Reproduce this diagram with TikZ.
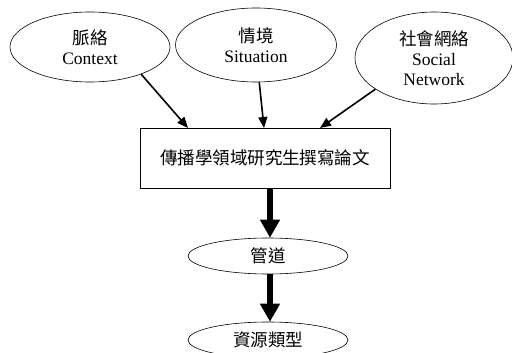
\documentclass[tikz,border=0pt]{standalone}
\usepackage{fontspec}
\setmainfont{Liberation Serif}
\newfontfamily\cjk{Noto Sans CJK TC}
\usetikzlibrary{shapes.geometric,arrows.meta}
\begin{document}
\begin{tikzpicture}[x=1pt,y=-1pt,
  oval/.style={draw,ellipse,inner sep=0pt,line width=0.6pt,align=center,font=\fontsize{17.5}{20}\selectfont},
  thinarrow/.style={line width=1.6pt,-{Triangle[width=9pt,length=11pt]}},
  thickarrow/.style={line width=6.5pt,-{Triangle[width=19pt,length=18pt]}}]
\useasboundingbox (0,0) rectangle (512,353);
\node[oval,minimum width=160pt,minimum height=70pt] (ctx) at (90,47) {{\cjk 脈絡}\\Context};
\node[oval,minimum width=161pt,minimum height=74pt] (sit) at (256,45) {{\cjk 情境}\\Situation};
\node[oval,minimum width=158pt,minimum height=92pt] (soc) at (434,58) {{\cjk 社會網絡}\\Social\\Network};
\node[draw,line width=0.6pt,minimum width=250pt,minimum height=60pt,inner sep=0pt,font=\fontsize{17.5}{20}\selectfont] (box) at (265,158) {\cjk 傳播學領域研究生撰寫論文};
\node[oval,minimum width=160pt,minimum height=36pt] (pipe) at (268,256) {\cjk 管道};
\node[oval,minimum width=160pt,minimum height=36pt] (res) at (268,340) {\cjk 資源類型};
\coordinate (e1) at (188,128);
\coordinate (e2) at (264,128);
\coordinate (e3) at (320,128);
\draw[thinarrow] (ctx.-28) -- (e1);
\draw[thinarrow] (sit.-85) -- (e2);
\draw[thinarrow] (soc.-152) -- (e3);
\draw[thickarrow] (box.south -| pipe.north) ++(2,0) coordinate (t1) (t1) -- (t1 |- pipe.north);
\draw[thickarrow] (pipe.south) ++(2,0) coordinate (t2) (t2) -- (t2 |- res.north);
\end{tikzpicture}
\end{document}
